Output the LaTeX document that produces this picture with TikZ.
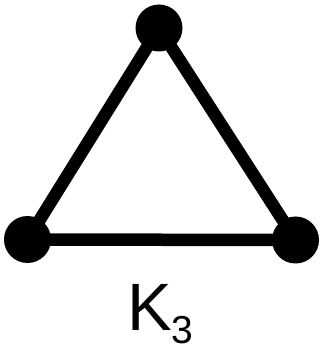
\documentclass[tikz,border=0pt]{standalone}
\usepackage{fontspec}
\setmainfont{Liberation Sans}
\begin{document}
\begin{tikzpicture}[x=1pt,y=1pt,
  vertex/.style={circle,fill=black,inner sep=0pt,minimum size=47pt},
  edge/.style={line width=12.5pt}]
\useasboundingbox (0,0) rectangle (327,346);
\node[vertex] (t) at (159,318) {};
\node[vertex] (l) at (27.5,106.5) {};
\node[vertex] (r) at (295.5,106) {};
\draw[edge] (t.center) -- (l.center) -- (r.center) -- cycle;
\node[anchor=base west,inner sep=0pt] (lab) at (127,16) {\fontsize{67}{67}\selectfont K\raisebox{-13pt}[0pt][0pt]{\fontsize{39}{39}\selectfont 3}};
\end{tikzpicture}
\end{document}
